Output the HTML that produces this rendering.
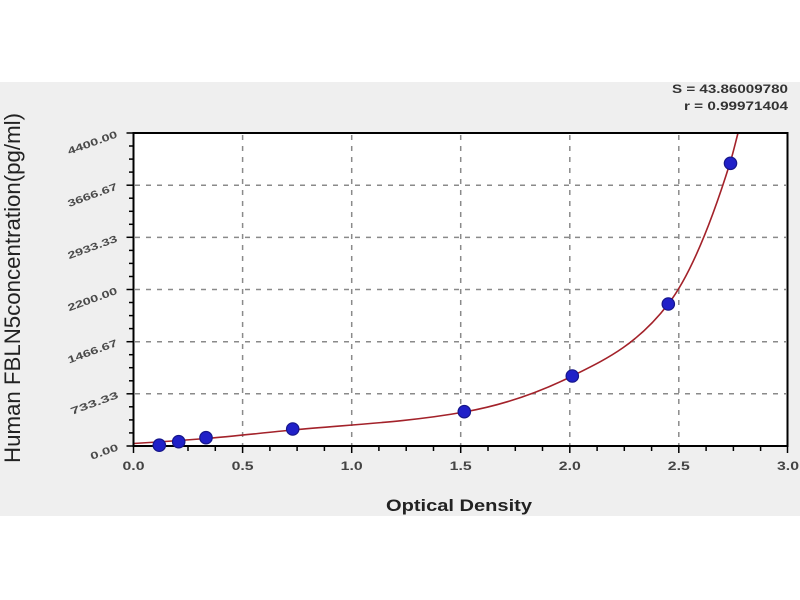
<!DOCTYPE html>
<html>
<head>
<meta charset="utf-8">
<style>
  html,body{margin:0;padding:0;background:#ffffff;}
  svg{display:block;}
  text{font-family:"Liberation Sans",Arial,sans-serif;}
</style>
</head>
<body>
<svg width="800" height="600" viewBox="0 0 800 600" xmlns="http://www.w3.org/2000/svg">
  <!-- gray panel -->
  <rect x="0" y="82" width="800" height="434" fill="#efefef"/>
  <!-- plot area -->
  <rect x="133.5" y="133" width="654" height="313" fill="#ffffff"/>

  <!-- grid -->
  <g stroke="#8a8a8a" stroke-width="1.5" stroke-dasharray="5 6" fill="none">
    <line x1="242.6" y1="135" x2="242.6" y2="445"/>
    <line x1="351.7" y1="135" x2="351.7" y2="445"/>
    <line x1="460.7" y1="135" x2="460.7" y2="445"/>
    <line x1="569.8" y1="135" x2="569.8" y2="445"/>
    <line x1="678.8" y1="135" x2="678.8" y2="445"/>
    <line x1="135" y1="185.3" x2="786" y2="185.3"/>
    <line x1="135" y1="237.4" x2="786" y2="237.4"/>
    <line x1="135" y1="289.5" x2="786" y2="289.5"/>
    <line x1="135" y1="341.7" x2="786" y2="341.7"/>
    <line x1="135" y1="393.8" x2="786" y2="393.8"/>
  </g>

  <!-- curve -->
  <path d="M133.5,443.5 C157.7,442.05 181.8,440.4 206,438.5 C234.9,436.2 263.8,432.7 292.7,430 C349.9,424.6 407.1,422.3 464.3,412 C500.3,405.5 536.3,394 572.3,376 C604.3,360 636.3,345.6 668.3,304 C688.9,277.3 709.4,228.8 730,163 C732.7,154.5 735.3,143.4 738,133"
        fill="none" stroke="#a3222a" stroke-width="1.6"/>

  <!-- frame -->
  <rect x="133.5" y="133" width="654" height="313" fill="none" stroke="#000" stroke-width="2"/>

  <!-- y ticks -->
  <g stroke="#000" stroke-width="1.5">
    <line x1="126.5" y1="133" x2="133.5" y2="133"/>
    <line x1="126.5" y1="185.2" x2="133.5" y2="185.2"/>
    <line x1="126.5" y1="237.3" x2="133.5" y2="237.3"/>
    <line x1="126.5" y1="289.5" x2="133.5" y2="289.5"/>
    <line x1="126.5" y1="341.7" x2="133.5" y2="341.7"/>
    <line x1="126.5" y1="393.8" x2="133.5" y2="393.8"/>
    <line x1="126.5" y1="446" x2="133.5" y2="446"/>
    <!-- minor -->
    <line x1="129" y1="146" x2="133.5" y2="146"/>
    <line x1="129" y1="159.1" x2="133.5" y2="159.1"/>
    <line x1="129" y1="172.1" x2="133.5" y2="172.1"/>
    <line x1="129" y1="198.2" x2="133.5" y2="198.2"/>
    <line x1="129" y1="211.3" x2="133.5" y2="211.3"/>
    <line x1="129" y1="224.3" x2="133.5" y2="224.3"/>
    <line x1="129" y1="250.4" x2="133.5" y2="250.4"/>
    <line x1="129" y1="263.4" x2="133.5" y2="263.4"/>
    <line x1="129" y1="276.5" x2="133.5" y2="276.5"/>
    <line x1="129" y1="302.5" x2="133.5" y2="302.5"/>
    <line x1="129" y1="315.6" x2="133.5" y2="315.6"/>
    <line x1="129" y1="328.6" x2="133.5" y2="328.6"/>
    <line x1="129" y1="354.7" x2="133.5" y2="354.7"/>
    <line x1="129" y1="367.7" x2="133.5" y2="367.7"/>
    <line x1="129" y1="380.8" x2="133.5" y2="380.8"/>
    <line x1="129" y1="406.8" x2="133.5" y2="406.8"/>
    <line x1="129" y1="419.9" x2="133.5" y2="419.9"/>
    <line x1="129" y1="432.9" x2="133.5" y2="432.9"/>
  </g>

  <!-- x ticks -->
  <g stroke="#000" stroke-width="1.5">
    <line x1="133.5" y1="446" x2="133.5" y2="453"/>
    <line x1="160.8" y1="446" x2="160.8" y2="451"/>
    <line x1="188.0" y1="446" x2="188.0" y2="451"/>
    <line x1="215.3" y1="446" x2="215.3" y2="451"/>
    <line x1="242.6" y1="446" x2="242.6" y2="453"/>
    <line x1="269.9" y1="446" x2="269.9" y2="451"/>
    <line x1="297.1" y1="446" x2="297.1" y2="451"/>
    <line x1="324.4" y1="446" x2="324.4" y2="451"/>
    <line x1="351.7" y1="446" x2="351.7" y2="453"/>
    <line x1="378.9" y1="446" x2="378.9" y2="451"/>
    <line x1="406.2" y1="446" x2="406.2" y2="451"/>
    <line x1="433.5" y1="446" x2="433.5" y2="451"/>
    <line x1="460.7" y1="446" x2="460.7" y2="453"/>
    <line x1="488.0" y1="446" x2="488.0" y2="451"/>
    <line x1="515.3" y1="446" x2="515.3" y2="451"/>
    <line x1="542.5" y1="446" x2="542.5" y2="451"/>
    <line x1="569.8" y1="446" x2="569.8" y2="453"/>
    <line x1="597.1" y1="446" x2="597.1" y2="451"/>
    <line x1="624.3" y1="446" x2="624.3" y2="451"/>
    <line x1="651.6" y1="446" x2="651.6" y2="451"/>
    <line x1="678.8" y1="446" x2="678.8" y2="453"/>
    <line x1="706.1" y1="446" x2="706.1" y2="451"/>
    <line x1="733.4" y1="446" x2="733.4" y2="451"/>
    <line x1="760.6" y1="446" x2="760.6" y2="451"/>
    <line x1="787.5" y1="446" x2="787.5" y2="453"/>
  </g>

  <!-- data points -->
  <g fill="#2020c8" stroke="#16168a" stroke-width="1.2">
    <circle cx="159.3" cy="445.2" r="6.2"/>
    <circle cx="178.7" cy="441.7" r="6.2"/>
    <circle cx="206" cy="437.7" r="6.2"/>
    <circle cx="292.7" cy="429" r="6.2"/>
    <circle cx="464.3" cy="411.7" r="6.2"/>
    <circle cx="572.3" cy="376" r="6.2"/>
    <circle cx="668.3" cy="304" r="6.2"/>
    <circle cx="730.5" cy="163.3" r="6.2"/>
  </g>

  <!-- y tick labels -->
  <g font-size="10" font-weight="bold" fill="#4a4a4a" text-anchor="end">
    <text x="118" y="137" transform="rotate(-20 118 137)" textLength="52" lengthAdjust="spacingAndGlyphs">4400.00</text>
    <text x="118" y="189.3" transform="rotate(-20 118 189.3)" textLength="52" lengthAdjust="spacingAndGlyphs">3666.67</text>
    <text x="118" y="241.4" transform="rotate(-20 118 241.4)" textLength="52" lengthAdjust="spacingAndGlyphs">2933.33</text>
    <text x="118" y="293.5" transform="rotate(-20 118 293.5)" textLength="52" lengthAdjust="spacingAndGlyphs">2200.00</text>
    <text x="118" y="345.7" transform="rotate(-20 118 345.7)" textLength="52" lengthAdjust="spacingAndGlyphs">1466.67</text>
    <text x="119" y="397.8" transform="rotate(-20 119 397.8)" textLength="50" lengthAdjust="spacingAndGlyphs">733.33</text>
    <text x="119" y="450" transform="rotate(-20 119 450)" textLength="29" lengthAdjust="spacingAndGlyphs">0.00</text>
  </g>

  <!-- x tick labels -->
  <g font-size="12" font-weight="bold" fill="#444" text-anchor="middle">
    <text x="133.5" y="470" textLength="22" lengthAdjust="spacingAndGlyphs">0.0</text>
    <text x="242.6" y="470" textLength="22" lengthAdjust="spacingAndGlyphs">0.5</text>
    <text x="351.7" y="470" textLength="22" lengthAdjust="spacingAndGlyphs">1.0</text>
    <text x="460.7" y="470" textLength="22" lengthAdjust="spacingAndGlyphs">1.5</text>
    <text x="569.8" y="470" textLength="22" lengthAdjust="spacingAndGlyphs">2.0</text>
    <text x="678.8" y="470" textLength="22" lengthAdjust="spacingAndGlyphs">2.5</text>
    <text x="788" y="470" textLength="22" lengthAdjust="spacingAndGlyphs">3.0</text>
  </g>

  <!-- axis titles -->
  <text x="386" y="511" font-size="17" font-weight="bold" fill="#222" textLength="146" lengthAdjust="spacingAndGlyphs">Optical Density</text>
  <text x="0" y="0" font-size="22" fill="#222" transform="translate(20 463) rotate(-90)" textLength="350" lengthAdjust="spacingAndGlyphs">Human FBLN5concentration(pg/ml)</text>

  <!-- stats -->
  <g font-size="12" font-weight="bold" fill="#333" text-anchor="end">
    <text x="788" y="93" textLength="116" lengthAdjust="spacingAndGlyphs">S = 43.86009780</text>
    <text x="788" y="110" textLength="104" lengthAdjust="spacingAndGlyphs">r = 0.99971404</text>
  </g>
</svg>
</body>
</html>
